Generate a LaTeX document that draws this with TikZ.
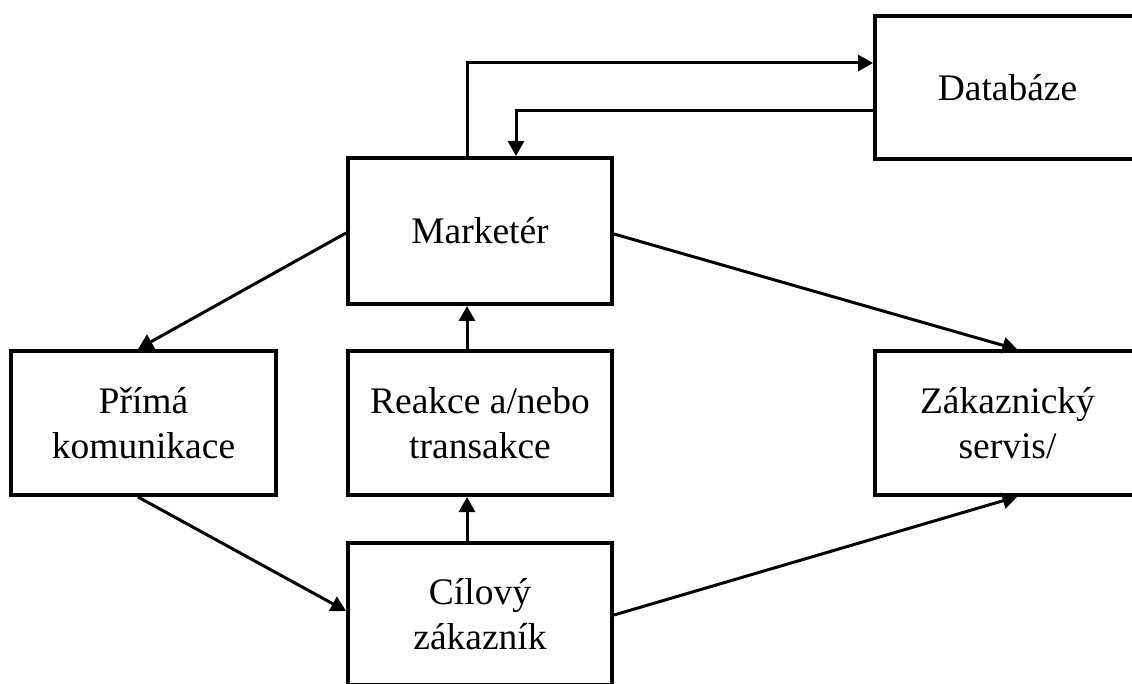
\documentclass[tikz,border=0pt]{standalone}
\usepackage{fontspec}
\setmainfont{Liberation Serif}
\usetikzlibrary{arrows.meta}
\begin{document}
\begin{tikzpicture}[x=1pt,y=-1pt,
  box/.style={draw,line width=4pt,rectangle,align=center,
    font=\fontsize{37.5}{45}\selectfont,inner sep=0pt},
  arr/.style={line width=3pt,-{Triangle[length=15pt,width=16pt]}}]
\useasboundingbox (0,0) rectangle (1132,684);
\clip (0,0) rectangle (1132,684);
% boxes
\node[box,minimum width=264pt,minimum height=146pt] (mk) at (480,231) {Marketér};
\node[box,minimum width=265pt,minimum height=143pt] (db) at (1007.5,87.5) {Databáze};
\node[box,minimum width=265pt,minimum height=144pt] (pk) at (143.5,423) {Přímá\\komunikace};
\node[box,minimum width=264pt,minimum height=144pt] (re) at (480,423) {Reakce a/nebo\\transakce};
\node[box,minimum width=265pt,minimum height=143pt] (zs) at (1007.5,423) {Zákaznický\\servis/};
\node[box,minimum width=264pt,minimum height=142pt] (cz) at (480,614) {Cílový\\zákazník};
% connectors
\draw[arr] ([xshift=-13pt]mk.north) |- ([yshift=24.5pt]db.west);
\draw[arr] ([yshift=-23.5pt]db.west) -| ([xshift=36pt]mk.north);
\draw[arr] ([yshift=-2pt]mk.west) -- ([xshift=-5.5pt]pk.north);
\draw[arr] ([yshift=-3pt]mk.east) -- ([xshift=10pt]zs.north);
\draw[arr] ([xshift=-13pt]re.north) -- ([xshift=-13pt]mk.south);
\draw[arr] ([xshift=-13pt]cz.north) -- ([xshift=-13pt]re.south);
\draw[arr] ([xshift=-5.5pt]pk.south) -- ([yshift=3pt]cz.west);
\draw[arr] ([yshift=-1pt]cz.east) -- ([xshift=10pt]zs.south);
\end{tikzpicture}
\end{document}
